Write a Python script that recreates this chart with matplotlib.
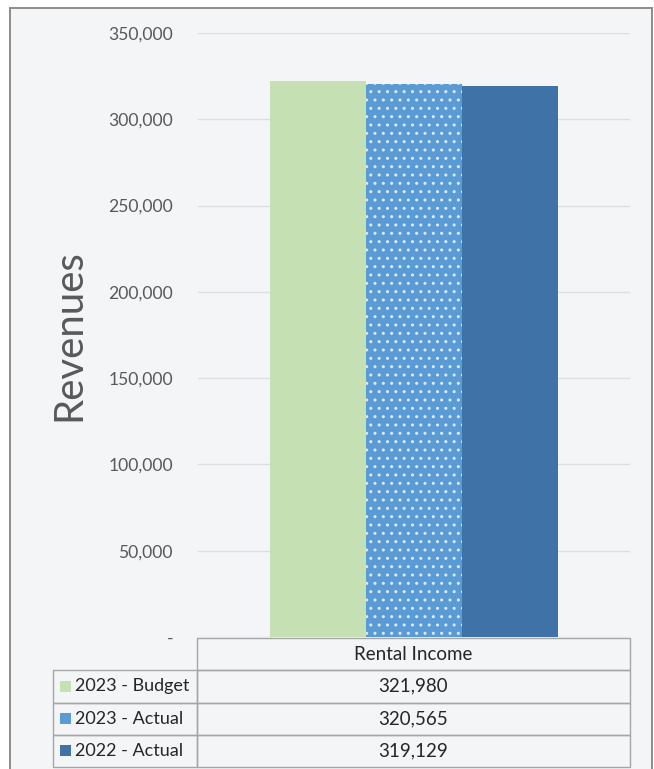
import matplotlib.pyplot as plt
import numpy as np
from matplotlib.patches import Rectangle
from matplotlib.table import Table
from matplotlib.ticker import FuncFormatter, MultipleLocator

# chart data
category = "Rental Income"
series = ["2023 - Budget", "2023 - Actual", "2022 - Actual"]
values = [321980, 320565, 319129]
colors = ["#c5e0b3", "#5b9bd5", "#3f72a6"]
hatches = [None, "..", None]

W, H = 654, 769
plt.rcParams['font.family'] = ['Lato', 'DejaVu Sans']

fig = plt.figure(figsize=(W / 100, H / 100), dpi=100, facecolor="white")

# outer frame with light background
fig.add_artist(Rectangle((10 / W, -0.01), 642 / W, (H - 8) / H + 0.01,
                         transform=fig.transFigure, facecolor="#f3f5f7",
                         edgecolor="#8c8c8c", lw=1.4, zorder=-10))

ax_l, ax_r, ax_t, ax_b = 198, 630, 33, 637
ax = fig.add_axes([ax_l / W, (H - ax_b) / H, (ax_r - ax_l) / W, (ax_b - ax_t) / H])
ax.set_facecolor("none")
aw, ah = ax_r - ax_l, ax_b - ax_t

# bars
bw = 96 / aw
offsets = (np.arange(len(values)) - 1) * bw
for off, v, c, h in zip(offsets, values, colors, hatches):
    ax.bar(off, v, width=bw, color=c, hatch=h,
           edgecolor="#dceaf7" if h else c, linewidth=0, zorder=2)

ax.set_xlim(-0.5, 0.5)
ax.set_ylim(0, 350000)
ax.yaxis.set_major_locator(MultipleLocator(50000))
ax.yaxis.set_major_formatter(FuncFormatter(lambda y, p: "-" if y == 0 else f"{int(y):,}"))
ax.grid(axis="y", color="#dcdfe3", lw=1, zorder=0)
ax.set_axisbelow(True)
ax.set_xticks([])
ax.tick_params(axis="y", length=0, pad=18, labelsize=12.6, labelcolor="#595959")
for s in ax.spines.values():
    s.set_visible(False)

ax.set_ylabel("Revenues", fontsize=29, color="#595959", labelpad=15)

# data table under the bars: series names on the left, values on the right
tab_l, tab_r, tab_t, tab_b = 53, 630, 638, 767
split = 197
w0, w1 = split - tab_l, tab_r - split
tbl = Table(ax, bbox=[(tab_l - ax_l) / aw, (ax_b - tab_b) / ah,
                      (tab_r - tab_l) / aw, (tab_b - tab_t) / ah])
tbl.add_cell(0, 1, w1, 1, text=category, loc="center")
for i, (s, v) in enumerate(zip(series, values)):
    name = tbl.add_cell(i + 1, 0, w0, 1, text=s, loc="left")
    name.PAD = 22 / w0
    tbl.add_cell(i + 1, 1, w1, 1, text=f"{v:,}", loc="center")
tbl.auto_set_font_size(False)
tbl.set_fontsize(13.5)
for (r, c), cell in tbl.get_celld().items():
    cell.set_edgecolor("#a6a6a6")
    cell.set_linewidth(1)
    cell.set_facecolor("none")
    cell.get_text().set_color("#262626")
    if c == 0:
        cell.set_fontsize(13)
ax.add_table(tbl)

# legend keys inside the name cells
row_h = (tab_b - tab_t) / 4
for i, c in enumerate(colors):
    yc = tab_t + row_h * (1.5 + i)
    ax.add_patch(Rectangle(((60 - ax_l) / aw, (ax_b - yc - 5.5) / ah), 11 / aw, 11 / ah,
                           transform=ax.transAxes, facecolor=c, edgecolor="none",
                           clip_on=False, zorder=5))

fig.savefig("out.png", dpi=100)
